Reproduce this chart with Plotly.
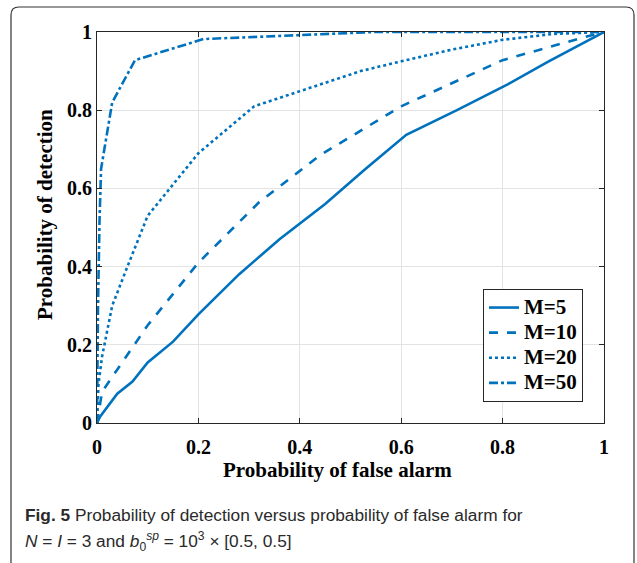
import plotly.graph_objects as go

# Data
m5_x = [0, 0.006, 0.04, 0.07, 0.1, 0.15, 0.2, 0.28, 0.36, 0.45, 0.53, 0.61, 0.71, 0.81, 0.89, 0.97, 1]
m5_y = [0, 0.016, 0.075, 0.106, 0.155, 0.208, 0.278, 0.38, 0.47, 0.56, 0.65, 0.737, 0.8, 0.866, 0.924, 0.98, 1]

m10_x = [0, 0.01, 0.1, 0.2, 0.32, 0.44, 0.6, 0.8, 0.97, 1]
m10_y = [0, 0.08, 0.25, 0.41, 0.565, 0.685, 0.81, 0.928, 0.99, 1]

m20_x = [0, 0.003, 0.01, 0.03, 0.06, 0.1, 0.2, 0.31, 0.45, 0.52, 0.6, 0.7, 0.8, 0.9, 1]
m20_y = [0, 0.1, 0.17, 0.3, 0.4, 0.53, 0.69, 0.81, 0.87, 0.9, 0.925, 0.955, 0.98, 0.995, 1]

m50_x = [0, 0.002, 0.005, 0.008, 0.03, 0.075, 0.21, 0.55, 1]
m50_y = [0, 0.3, 0.52, 0.65, 0.82, 0.928, 0.982, 1, 1]

series_names = ["M=5", "M=10", "M=20", "M=50"]
tick_vals = [0, 0.2, 0.4, 0.6, 0.8, 1]
tick_text = ["0", "0.2", "0.4", "0.6", "0.8", "1"]

color = "#0072BD"
serif = "Liberation Serif"

fig = go.Figure()
for xs, ys, name, dash in [(m5_x, m5_y, series_names[0], "solid"),
                           (m10_x, m10_y, series_names[1], "dash"),
                           (m20_x, m20_y, series_names[2], "dot"),
                           (m50_x, m50_y, series_names[3], "dashdot")]:
    fig.add_trace(go.Scatter(x=xs, y=ys, mode="lines",
                             name=f'<span style="font-size:21px"><b>{name}</b></span>',
                             line=dict(color=color, width=2.6, dash=dash)))

W, H = 637, 563
PL, PR, PT, PB = 97, 604, 32, 423  # plot area in screen pixels
L, T, R, B = PL, PT, W - PR, H - PB
pw, ph = PR - PL, PB - PT

def px2x(p):
    return (p - PL) / pw

def px2y(p):
    return (PB - p) / ph

axis_common = dict(range=[0, 1], tickvals=tick_vals,
                   ticktext=[f"<b>{t}</b>" for t in tick_text],
                   showgrid=True, gridcolor="#e3e3e3", gridwidth=1,
                   showline=True, linecolor="#262626", linewidth=1, mirror="ticks",
                   ticks="inside", ticklen=5, tickcolor="#262626",
                   zeroline=False, fixedrange=True,
                   tickfont=dict(family=serif, size=20, color="black"))

fig.update_xaxes(**axis_common, ticklabelstandoff=6)
fig.update_yaxes(**axis_common)

# rounded outer frame
x0, x1 = px2x(11), px2x(634)
y0, y1 = px2y(575), px2y(7)
rx, ry = 8 / pw, 8 / ph
path = (f"M {x0} {y0} L {x0} {y1-ry} Q {x0} {y1} {x0+rx} {y1} "
        f"L {x1-rx} {y1} Q {x1} {y1} {x1} {y1-ry} L {x1} {y0}")
fig.add_shape(type="path", path=path, xref="paper", yref="paper",
              line=dict(color="#333333", width=1.2), layer="below")

cap_font = dict(family="Liberation Sans", size=17.3, color="#2a2a2a")
annotations = [
    dict(text="<b>Probability of detection</b>", x=px2x(45), y=px2y(215), textangle=-90,
         font=dict(family=serif, size=21, color="black")),
    dict(text="<b>Probability of false alarm</b>", x=px2x(337), y=px2y(470),
         font=dict(family=serif, size=21, color="black")),
    dict(text="<b>Fig. 5</b> Probability of detection versus probability of false alarm for",
         x=px2x(23), y=px2y(515), xanchor="left", font=cap_font),
    dict(text="<i>N</i> = <i>I</i> = 3 and <i>b</i><sub>0</sub><sup><i>sp</i></sup> = 10<sup>3</sup> × [0.5, 0.5]",
         x=px2x(23), y=px2y(541), xanchor="left", font=cap_font),
]
for a in annotations:
    a.update(xref="paper", yref="paper", showarrow=False)
    a.setdefault("xanchor", "center")
    a["yanchor"] = "middle"

fig.update_layout(
    annotations=annotations,
    width=W, height=H,
    margin=dict(l=L, r=R, t=T, b=B, pad=0),
    paper_bgcolor="white", plot_bgcolor="white",
    showlegend=True,
    legend=dict(x=px2x(583), y=px2y(402), xanchor="right", yanchor="bottom",
                bgcolor="white", bordercolor="#262626", borderwidth=1,
                font=dict(family=serif, size=17, color="black"),
                tracegroupgap=0, itemwidth=30),
)

fig.write_html("out.html", config={"displayModeBar": False},
               post_script="document.body.style.margin='0';document.body.style.overflow='hidden';")
